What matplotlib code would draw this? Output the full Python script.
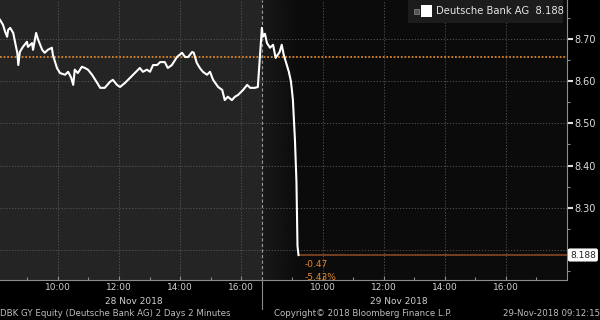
import matplotlib
matplotlib.use("Agg")
import numpy as np
from matplotlib import pyplot as plt
from matplotlib.patches import Rectangle
from matplotlib.lines import Line2D

# DBK GY, 2 days of 2 minute bars
day1_times = ["08:06", "08:12", "08:16", "08:20", "08:22", "08:26", "08:32", "08:36", "08:40", "08:42",
              "08:45", "08:51", "08:59", "09:01", "09:09", "09:11", "09:17", "09:21", "09:29", "09:34",
              "09:40", "09:48", "09:50", "09:58", "10:04", "10:14", "10:20", "10:26", "10:30", "10:33",
              "10:39", "10:47", "10:53", "10:59", "11:07", "11:17", "11:23", "11:32", "11:42", "11:48",
              "11:56", "12:02", "12:12", "12:22", "12:31", "12:41", "12:47", "12:55", "13:01", "13:07",
              "13:15", "13:21", "13:30", "13:36", "13:44", "13:54", "14:04", "14:10", "14:16", "14:24",
              "14:27", "14:33", "14:39", "14:45", "14:53", "14:59", "15:05", "15:15", "15:23", "15:28",
              "15:34", "15:42", "15:48", "15:54", "16:04", "16:12", "16:18", "16:27", "16:33"]
day1_prices = [8.745, 8.733, 8.717, 8.705, 8.721, 8.726, 8.714, 8.690, 8.667, 8.638,
               8.669, 8.681, 8.693, 8.681, 8.690, 8.674, 8.714, 8.698, 8.674, 8.667,
               8.674, 8.679, 8.662, 8.631, 8.619, 8.615, 8.622, 8.608, 8.591, 8.627,
               8.619, 8.634, 8.631, 8.627, 8.615, 8.596, 8.584, 8.584, 8.598, 8.603,
               8.591, 8.586, 8.596, 8.608, 8.619, 8.631, 8.622, 8.627, 8.622, 8.638,
               8.638, 8.645, 8.645, 8.631, 8.638, 8.657, 8.667, 8.657, 8.657, 8.669,
               8.667, 8.643, 8.631, 8.622, 8.615, 8.622, 8.603, 8.586, 8.579, 8.555,
               8.563, 8.555, 8.563, 8.567, 8.579, 8.591, 8.584, 8.584, 8.586]

day2_times = ["08:00", "08:02", "08:06", "08:10", "08:16", "08:22", "08:27", "08:35", "08:39", "08:43",
              "08:49", "08:53", "08:57", "08:59", "09:01", "09:05", "09:08", "09:10", "09:12"]
day2_prices = [8.726, 8.705, 8.712, 8.690, 8.679, 8.686, 8.655, 8.669, 8.686, 8.662,
               8.638, 8.622, 8.600, 8.579, 8.555, 8.461, 8.360, 8.210, 8.188]

prev_close = 8.658
last_price = 8.188
change = "-0.47"
change_pct = "-5.43%"

day_labels = ["28 Nov 2018", "29 Nov 2018"]
hour_labels = ["10:00", "12:00", "14:00", "16:00"]
y_ticks = [8.30, 8.40, 8.50, 8.60, 8.70]

# axis is continuous: day 1 shown 08:06-16:41, day 2 08:00-18:00
DAY1_START = 8 * 60 + 6
DAY1_SPAN = 16 * 60 + 41 - DAY1_START
DAY2_START = 8 * 60
DAY2_SPAN = 10 * 60
XMAX = DAY1_SPAN + DAY2_SPAN
YMIN, YMAX = 8.129, 8.792


def mins(s):
    h, m = s.split(":")
    return int(h) * 60 + int(m)


def x1(s):
    return mins(s) - DAY1_START


def x2(s):
    return DAY1_SPAN + mins(s) - DAY2_START


W, H = 600, 320


def fx(p):
    return p / W


def fy(p):
    return 1 - p / H


xs = [x1(t) for t in day1_times] + [x2(t) for t in day2_times]
ys = day1_prices + day2_prices

fig = plt.figure(figsize=(6, 3.2), dpi=100, facecolor="black")
ax = fig.add_axes([0, 40 / H, 567 / W, 280 / H])
ax.set_facecolor("#0b0b0b")
ax.set_xlim(0, XMAX)
ax.set_ylim(YMIN, YMAX)

ax.axvspan(0, DAY1_SPAN, color="#242424", zorder=0, lw=0)
# soft shade just right of the day break
shade = np.linspace(0.10, 0.045, 64).reshape(1, -1)
ax.imshow(shade, cmap="gray", vmin=0, vmax=1, aspect="auto", zorder=0,
          extent=(DAY1_SPAN, DAY1_SPAN + 70, YMIN, YMAX), interpolation="bilinear")
ax.set_xlim(0, XMAX)
ax.set_ylim(YMIN, YMAX)

# grid
for v in [8.20] + y_ticks:
    ax.axhline(v, color="#5a5a5a", lw=0.6, ls=(0, (1.5, 2)), zorder=1)
grid_x = [x1(t) for t in hour_labels] + [x2(t) for t in hour_labels]
for gx in grid_x:
    ax.axvline(gx, color="#5a5a5a", lw=0.6, ls=(0, (1.5, 2)), zorder=1)

# day separator
ax.axvline(DAY1_SPAN, color="#9a9a9a", lw=0.8, ls=(0, (3, 2)), zorder=2)
sep_x = fx(DAY1_SPAN / XMAX * 567)
fig.add_artist(Line2D([sep_x, sep_x], [fy(280), fy(309)], color="#8a8a8a", lw=0.8))

# previous close and last price
ax.axhline(prev_close, color="#d9862c", lw=1.3, ls=(0, (1, 1)), zorder=3)
ax.plot([x2(day2_times[-1]), XMAX], [last_price, last_price],
        color="#7c4420", lw=1.3, zorder=3)

ax.plot(xs, ys, color="white", lw=1.5, zorder=5, solid_joinstyle="round")

ax.text(x2(day2_times[-1]) + 12, 8.166, change, color="#e0862a", fontsize=6.5,
        ha="left", va="center", zorder=6)
ax.text(x2(day2_times[-1]) + 12, 8.134, change_pct, color="#e0862a", fontsize=6.5,
        ha="left", va="center", zorder=6, clip_on=True)

# axes styling
for s in ["top", "left"]:
    ax.spines[s].set_visible(False)
for s in ["right", "bottom"]:
    ax.spines[s].set_color("#8c8c8c")
    ax.spines[s].set_linewidth(0.8)

ax.yaxis.tick_right()
ax.set_yticks([8.20] + y_ticks)
ax.set_yticklabels([""] + ["%.2f" % v for v in y_ticks])
ax.set_yticks([8.15, 8.25, 8.35, 8.45, 8.55, 8.65, 8.75], minor=True)
ax.tick_params(axis="y", which="major", direction="out", length=4, width=1.5,
               colors="#dddddd", labelsize=7, pad=1)
ax.tick_params(axis="y", which="minor", direction="out", length=2.5, width=0.8, colors="#8c8c8c")

ax.set_xticks(grid_x)
ax.set_xticklabels(hour_labels * 2)
minor_x = [x1("%02d:00" % h) for h in range(9, 17)] + [x2("%02d:00" % h) for h in range(9, 18)]
ax.set_xticks(minor_x, minor=True)
ax.tick_params(axis="x", which="major", direction="in", length=3, width=0.8,
               colors="#8c8c8c", labelcolor="#cfcfcf", labelsize=6.5, pad=2)
ax.tick_params(axis="x", which="minor", direction="in", length=2, width=0.8, colors="#8c8c8c")

ax.text(x1("12:30"), -0.075, day_labels[0], transform=ax.get_xaxis_transform(),
        color="#cfcfcf", fontsize=6.5, ha="center", va="center")
ax.text(x2("12:30"), -0.075, day_labels[1], transform=ax.get_xaxis_transform(),
        color="#cfcfcf", fontsize=6.5, ha="center", va="center")

# last price box on the right axis
fig.text(fx(570), fy(255), "%.3f" % last_price, color="#222222", fontsize=6.5,
         ha="left", va="center",
         bbox=dict(boxstyle="round,pad=0.15", fc="white", ec="white"))

# legend box
fig.add_artist(Rectangle((fx(408), fy(23)), fx(563) - fx(408), fy(0) - fy(23),
                         transform=fig.transFigure, fc="#1c1c1c", ec="none", zorder=10))
fig.add_artist(Rectangle((fx(414), fy(14)), fx(5), fy(0) - fy(5),
                         transform=fig.transFigure, fc="#555555", ec="#888888", lw=0.5, zorder=11))
fig.add_artist(Rectangle((fx(421), fy(17)), fx(11), fy(0) - fy(12),
                         transform=fig.transFigure, fc="white", ec="none", zorder=11))
fig.text(fx(436), fy(11), "Deutsche Bank AG  %.3f" % last_price, color="#e6e6e6",
         fontsize=7.2, ha="left", va="center", zorder=12)

# footer
fig.text(fx(0), fy(313), "DBK GY Equity (Deutsche Bank AG) 2 Days 2 Minutes", color="#bdbdbd",
         fontsize=6.2, ha="left", va="center")
fig.text(fx(274), fy(313), "Copyright\u00a9 2018 Bloomberg Finance L.P.", color="#bdbdbd",
         fontsize=6.2, ha="left", va="center")
fig.text(fx(600), fy(313), "29-Nov-2018 09:12:15", color="#bdbdbd",
         fontsize=6.2, ha="right", va="center")

plt.savefig("out.png", dpi=100, facecolor="black")
